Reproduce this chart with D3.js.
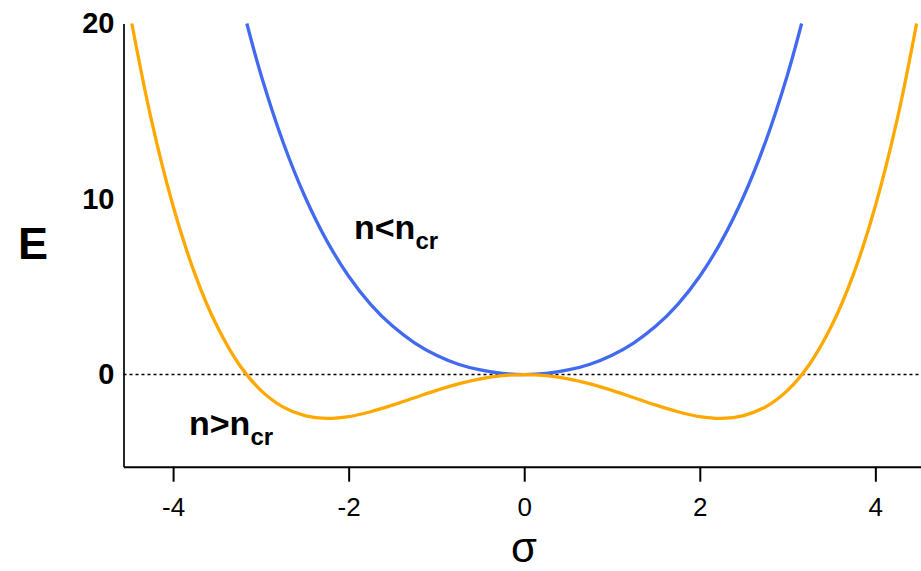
<!DOCTYPE html>
<html>
<head>
<meta charset="utf-8">
<script src="https://cdn.jsdelivr.net/npm/d3@7"></script>
<style>
  body { margin: 0; background: #fff; }
  svg { display: block; font-family: "Liberation Sans", Arial, Helvetica, sans-serif; }
</style>
</head>
<body>
<div id="chart"></div>
<script>
// values
const sigmaBelow = [-3.16, -3, -2.75, -2.5, -2.25, -2, -1.75, -1.5, -1.25, -1, -0.75, -0.5, -0.25,
                    0, 0.25, 0.5, 0.75, 1, 1.25, 1.5, 1.75, 2, 2.25, 2.5, 2.75, 3, 3.16];
const energyBelow = [20, 17.1, 13.28, 10.16, 7.63, 5.6, 4.0, 2.76, 1.81, 1.1, 0.59, 0.26, 0.06,
                     0, 0.06, 0.26, 0.59, 1.1, 1.81, 2.76, 4.0, 5.6, 7.63, 10.16, 13.28, 17.1, 20];

const sigmaAbove = [-4.47, -4.25, -4, -3.75, -3.5, -3.25, -3, -2.75, -2.5, -2.25, -2, -1.75, -1.5, -1.25, -1, -0.75, -0.5, -0.25,
                    0, 0.25, 0.5, 0.75, 1, 1.25, 1.5, 1.75, 2, 2.25, 2.5, 2.75, 3, 3.25, 3.5, 3.75, 4, 4.25, 4.47];
const energyAbove = [20, 14.56, 9.6, 5.71, 2.76, 0.59, -0.9, -1.84, -2.34, -2.5, -2.4, -2.12, -1.74, -1.32, -0.9, -0.53, -0.24, -0.06,
                     0, -0.06, -0.24, -0.53, -0.9, -1.32, -1.74, -2.12, -2.4, -2.5, -2.34, -1.84, -0.9, 0.59, 2.76, 5.71, 9.6, 14.56, 20];

const xTicks = [-4, -2, 0, 2, 4];
const yTicks = [0, 10, 20];

const width = 921, height = 571;
const plotLeft = 123.5, plotRight = 921, plotTop = 23.5, plotBottom = 466.7;

const x = d3.scaleLinear().domain([-4.565, 4.52]).range([plotLeft, plotRight]);
const y = d3.scaleLinear().domain([-5.25, 20]).range([plotBottom, plotTop]);

const svg = d3.select("#chart").append("svg")
    .attr("width", width)
    .attr("height", height);

svg.append("clipPath").attr("id", "plot")
  .append("rect")
    .attr("x", plotLeft).attr("y", plotTop - 2)
    .attr("width", plotRight - plotLeft).attr("height", plotBottom - plotTop + 2);

// dotted zero line
svg.append("line")
    .attr("x1", plotLeft).attr("x2", plotRight)
    .attr("y1", y(0)).attr("y2", y(0))
    .attr("stroke", "#000")
    .attr("stroke-width", 1.5)
    .attr("stroke-dasharray", "3,3");

const line = d3.line()
    .x(d => x(d[0]))
    .y(d => y(d[1]))
    .curve(d3.curveCatmullRom);

svg.append("path")
    .datum(d3.zip(sigmaBelow, energyBelow))
    .attr("clip-path", "url(#plot)")
    .attr("fill", "none")
    .attr("stroke", "#416af0")
    .attr("stroke-width", 3.3)
    .attr("d", line);

svg.append("path")
    .datum(d3.zip(sigmaAbove, energyAbove))
    .attr("clip-path", "url(#plot)")
    .attr("fill", "none")
    .attr("stroke", "#ffa800")
    .attr("stroke-width", 3.3)
    .attr("d", line);

// axes
const xAxis = svg.append("g")
    .attr("transform", `translate(0,${plotBottom})`)
    .call(d3.axisBottom(x).tickValues(xTicks).tickSize(15).tickSizeOuter(0).tickPadding(16)
      .tickFormat(d => d < 0 ? "-" + Math.abs(d) : d));
xAxis.select(".domain").attr("stroke-width", 2);
xAxis.selectAll(".tick line").attr("stroke-width", 2);
xAxis.selectAll("text")
    .attr("font-size", 26)
    .attr("font-family", "Liberation Sans, Arial, sans-serif")
    .attr("fill", "#000");

const yAxis = svg.append("g")
    .attr("transform", `translate(${plotLeft},0)`)
    .call(d3.axisLeft(y).tickValues(yTicks).tickSize(0).tickSizeOuter(0).tickPadding(9));
yAxis.select(".domain").attr("stroke-width", 1.7);
yAxis.selectAll("text")
    .attr("font-size", 29)
    .attr("font-weight", "bold")
    .attr("font-family", "Liberation Sans, Arial, sans-serif")
    .attr("fill", "#000");

// axis titles
svg.append("text")
    .attr("x", 33).attr("y", 259)
    .attr("text-anchor", "middle")
    .attr("font-size", 45)
    .attr("font-weight", "bold")
    .text("E");

svg.append("text")
    .attr("x", 524).attr("y", 562)
    .attr("text-anchor", "middle")
    .attr("font-size", 42)
    .text("σ");

// curve labels
function label(px, py, main) {
  const t = svg.append("text")
      .attr("x", px).attr("y", py)
      .attr("font-size", 34)
      .attr("font-weight", "bold");
  t.append("tspan").text(main);
  t.append("tspan").attr("dy", 10).attr("font-size", 24).text("cr");
}
label(354, 239, "n<n");
label(189, 435, "n>n");
</script>
</body>
</html>
